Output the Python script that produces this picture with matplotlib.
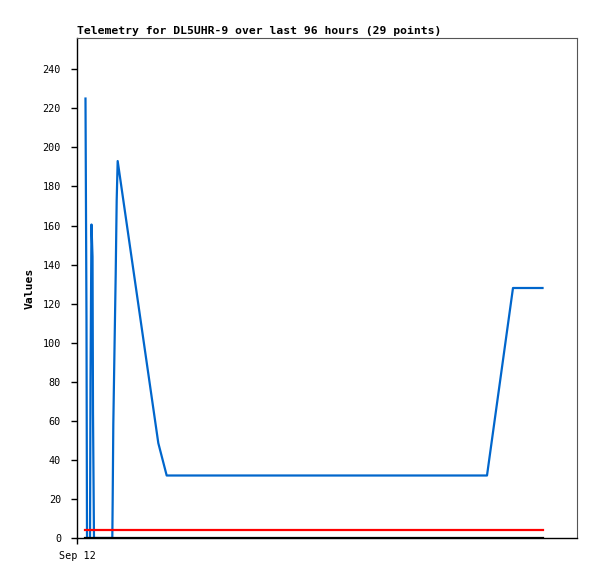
import matplotlib
matplotlib.use("Agg")
import matplotlib.pyplot as plt

# hours since Sep 12 00:00
hours = [1.63, 1.82, 1.92, 2.50, 2.59, 2.78, 2.98, 3.07, 3.26, 6.78, 6.85,
         6.97, 7.20, 7.43, 7.62, 7.81, 15.61, 17.22, 78.72, 83.71, 89.38]
values = [225, 112, 0, 0, 80, 160.5, 144, 64.5, 0, 0, 19.4,
          58, 97, 135, 173, 193, 48.6, 32, 32, 128, 128]

const_hours = [1.54, 89.41]
red_values = [4, 4]
black_values = [0, 0]

yticks = list(range(0, 241, 20))
title = "Telemetry for DL5UHR-9 over last 96 hours (29 points)"

fig = plt.figure(figsize=(5.97, 5.79), dpi=100)
ax = fig.add_axes([77 / 597, 1 - 538 / 579, 500 / 597, 500 / 579])

ax.plot(hours, values, color="#0066cc", linewidth=1.6, zorder=2)
ax.plot(const_hours, red_values, color="#ff0000", linewidth=1.6, zorder=3)
ax.plot(const_hours, black_values, color="black", linewidth=1.6, zorder=4)

ax.set_xlim(0, 96)
ax.set_ylim(0, 256)
ax.set_yticks(yticks)
ax.set_yticklabels([str(v) for v in yticks], family="DejaVu Sans Mono", fontsize=7.3)
ax.set_xticks([0])
ax.set_xticklabels(["Sep 12"], family="DejaVu Sans Mono", fontsize=7.3)
ax.tick_params(axis="y", direction="out", length=4.5, width=1, color="black", pad=7)
ax.tick_params(axis="x", direction="out", length=4.5, width=1, color="black", pad=5)

ax.set_ylabel("Values", family="DejaVu Sans Mono", fontweight="bold", fontsize=8.2, labelpad=6)
ax.set_title(title, loc="left", family="DejaVu Sans Mono", fontweight="bold",
             fontsize=8.2, pad=3)

for side in ["left", "bottom"]:
    ax.spines[side].set_color("black")
    ax.spines[side].set_linewidth(1)
for side in ["top", "right"]:
    ax.spines[side].set_color("#555555")
    ax.spines[side].set_linewidth(0.8)

fig.savefig("out.png", dpi=100)
